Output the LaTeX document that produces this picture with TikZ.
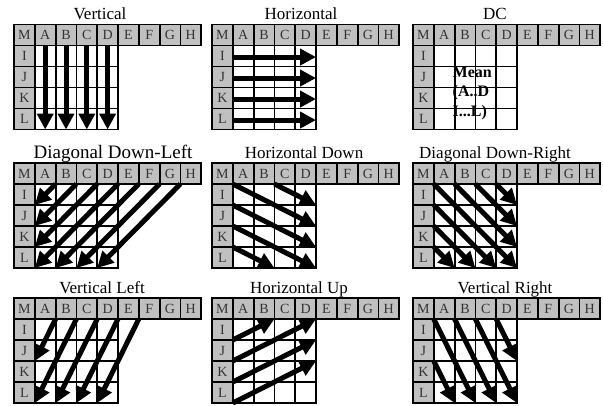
\documentclass[tikz,border=0pt]{standalone}
\usepackage{fontspec}
\setmainfont{Liberation Serif}
\usetikzlibrary{arrows.meta}
\definecolor{cellgray}{RGB}{192,192,192}
\tikzset{
  gridln/.style={line width=1.8pt, draw=black},
  lbl/.style={inner sep=0pt, text=black!80, font=\fontsize{14}{14}\selectfont},
  ttl/.style={inner sep=0pt, anchor=base, font=\fontsize{17}{17}\selectfont},
  arr/.style={line width=5pt, draw=black, -{Triangle[length=16pt,width=16pt]}},
  meantxt/.style={inner sep=0pt, anchor=base west, font=\bfseries\fontsize{16}{16}\selectfont}
}
\newcommand{\myfills}{%
  \fill[cellgray] (0,0) rectangle (9,1);
  \fill[cellgray] (0,1) rectangle (1,5);
  \fill[white] (1,1) rectangle (5,5);
}
\newcommand{\mygrid}{%
  \foreach \i in {0,...,8} {\draw[gridln] (\i,0) rectangle ++(1,1);}
  \foreach \i in {0,...,4} {\foreach \j in {1,...,4} {\draw[gridln] (\i,\j) rectangle ++(1,1);}}
  \foreach \l [count=\i from 0] in {M,A,B,C,D,E,F,G,H} {\node[lbl] (h\l) at (\i+0.5,0.5) {\l};}
  \foreach \l [count=\j from 1] in {I,J,K,L} {\node[lbl] (r\l) at (0.5,\j+0.5) {\l};}
}
\begin{document}
\begin{tikzpicture}[x=1pt, y=-1pt]
\useasboundingbox (0,0) rectangle (603,405);
\fill[white] (0,0) rectangle (603,405);

% titles
\node[ttl] (t1) at (100,19.5) {Vertical};
\node[ttl] (t2) at (301,19.5) {Horizontal};
\node[ttl] (t3) at (495,19.5) {DC};
\node[ttl, font=\fontsize{19}{19}\selectfont] (t4) at (113,158) {Diagonal Down-Left};
\node[ttl] (t5) at (304,158) {Horizontal Down};
\node[ttl] (t6) at (495,158) {Diagonal Down-Right};
\node[ttl] (t7) at (102,293) {Vertical Left};
\node[ttl] (t8) at (299,293) {Horizontal Up};
\node[ttl] (t9) at (505,293) {Vertical Right};

% Panel 1: Vertical
\begin{scope}[shift={(14,24.5)}, x=20.8pt, y=-21pt, name prefix=p1-]
  \myfills \mygrid
  \foreach \c in {1,...,4} {\draw[arr] (\c+0.5,1) -- (\c+0.5,5);}
\end{scope}

% Panel 2: Horizontal
\begin{scope}[shift={(212,24.5)}, x=20.8pt, y=-21pt, name prefix=p2-]
  \myfills \mygrid
  \foreach \r in {1,...,4} {\draw[arr] (1,\r+0.55) -- (5,\r+0.55);}
\end{scope}

% Panel 3: DC
\begin{scope}[shift={(413,24.5)}, x=20.8pt, y=-21pt, name prefix=p3-]
  \myfills
  \node[meantxt] (m1) at (1.9,2.5) {Mean};
  \node[meantxt] (m2) at (1.9,3.45) {(A..D};
  \node[meantxt] (m3) at (1.9,4.4) {I...L)};
  \mygrid
\end{scope}

% Panel 4: Diagonal Down-Left
\begin{scope}[shift={(14,163)}, x=20.8pt, y=-21pt, name prefix=p4-]
  \myfills \mygrid
  \draw[arr] (2,1) -- (1,2);
  \draw[arr] (3,1) -- (1,3);
  \draw[arr] (4,1) -- (1,4);
  \draw[arr] (5,1) -- (1,5);
  \draw[arr] (6,1) -- (2,5);
  \draw[arr] (7,1) -- (3,5);
  \draw[arr] (8,1) -- (4,5);
\end{scope}

% Panel 5: Horizontal Down
\begin{scope}[shift={(212,163)}, x=20.8pt, y=-21pt, name prefix=p5-]
  \myfills \mygrid
  \draw[arr] (1,1) -- (5,3);
  \draw[arr] (3,1) -- (5,2);
  \draw[arr] (1,2) -- (5,4);
  \draw[arr] (1,3) -- (5,5);
  \draw[arr] (1,4) -- (3,5);
\end{scope}

% Panel 6: Diagonal Down-Right
\begin{scope}[shift={(413,163)}, x=20.8pt, y=-21pt, name prefix=p6-]
  \myfills \mygrid
  \draw[arr] (1,1) -- (5,5);
  \draw[arr] (2,1) -- (5,4);
  \draw[arr] (3,1) -- (5,3);
  \draw[arr] (4,1) -- (5,2);
  \draw[arr] (1,2) -- (4,5);
  \draw[arr] (1,3) -- (3,5);
  \draw[arr] (1,4) -- (2,5);
\end{scope}

% Panel 7: Vertical Left
\begin{scope}[shift={(14,298)}, x=20.8pt, y=-21pt, name prefix=p7-]
  \myfills \mygrid
  \draw[arr] (2,1) -- (1,3);
  \draw[arr] (3,1) -- (1,5);
  \draw[arr] (4,1) -- (2,5);
  \draw[arr] (5,1) -- (3,5);
  \draw[arr] (6,1) -- (4,5);
\end{scope}

% Panel 8: Horizontal Up
\begin{scope}[shift={(212,298)}, x=20.8pt, y=-21pt, name prefix=p8-]
  \myfills \mygrid
  \draw[arr] (1,2) -- (3,1);
  \draw[arr] (1,3) -- (5,1);
  \draw[arr] (1,4) -- (5,2);
  \draw[arr] (1,5) -- (5,3);
\end{scope}

% Panel 9: Vertical Right
\begin{scope}[shift={(413,298)}, x=20.8pt, y=-21pt, name prefix=p9-]
  \myfills \mygrid
  \draw[arr] (1,1) -- (3,5);
  \draw[arr] (2,1) -- (4,5);
  \draw[arr] (3,1) -- (5,5);
  \draw[arr] (4,1) -- (5,3);
  \draw[arr] (1,3) -- (2,5);
\end{scope}
\end{tikzpicture}
\end{document}
